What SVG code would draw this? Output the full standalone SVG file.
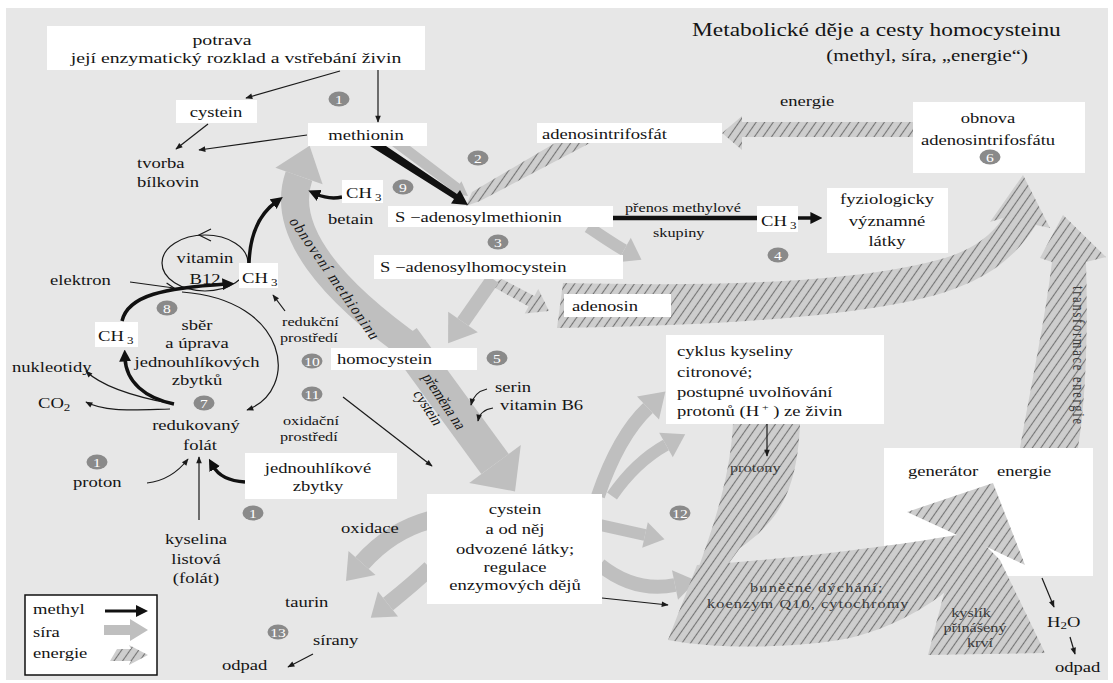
<svg xmlns="http://www.w3.org/2000/svg" width="1113" height="683" viewBox="0 0 1113 683">
<defs>
<style>
.t{font-family:"Liberation Serif","Times New Roman",serif;font-size:14.3px;fill:#141414}
.m{text-anchor:middle}
.e{text-anchor:end}
.sm{font-size:12.5px}
.f13{font-size:13px}
.f15{font-size:15.2px}
.ttl{font-size:18px}
.ttl2{font-size:16px}
.dk{fill:#3a3a3a}
.box{fill:#fff}
.b ellipse{fill:#8a8a8a}
.b text{font-family:"Liberation Serif","Times New Roman",serif;font-size:12px;fill:#fff;text-anchor:middle}
.s{fill:#bfbfbf}
.sl{fill:none;stroke:#bfbfbf}
.h{fill:url(#hatch)}
.ln{fill:none;stroke:#1a1a1a;stroke-width:1.2}
.tk{fill:none;stroke:#111;stroke-width:3.5}
</style>
<pattern id="hatch" patternUnits="userSpaceOnUse" width="7" height="7" patternTransform="rotate(35)">
<rect width="7" height="7" fill="#cecece"/>
<line x1="3.5" y1="0" x2="3.5" y2="7" stroke="#747474" stroke-width="1.1"/>
</pattern>
<marker id="a" viewBox="0 0 10 10" refX="9" refY="5" markerWidth="8" markerHeight="7" markerUnits="userSpaceOnUse" orient="auto"><path d="M0,1 L10,5 L0,9 Z" fill="#1a1a1a"/></marker>
<marker id="ab" viewBox="0 0 10 10" refX="3" refY="5" markerWidth="12" markerHeight="12" markerUnits="userSpaceOnUse" orient="auto"><path d="M0,0 L10,5 L0,10 Z" fill="#111"/></marker>
<marker id="ao" viewBox="0 0 10 10" refX="9" refY="5" markerWidth="10" markerHeight="10" markerUnits="userSpaceOnUse" orient="auto"><path d="M1,1 L9,5 L1,9" fill="none" stroke="#1a1a1a" stroke-width="1.3"/></marker>
</defs>
<rect width="1113" height="683" fill="#fff"/>
<rect x="6" y="8" width="1102" height="672" fill="#e7e7e7"/>

<g id="energy-flows-back">
<polygon class="h" points="913,122 742,122 742,116 722,133 742,150 742,137 913,137"/>
<polygon class="h" points="555,143 590,143 480,201 466,206 472,192"/>
<polygon class="h" points="502,279 534.4,296.1 538.3,289.1 549,311 524.7,313.5 528.6,306.5 490,285"/>
<path class="h" d="M563,283 C700,286 850,285 945,258 C972,250 992,235 1003,218 L990,222 L1023,175 L1050,228 L1036,225 C1012,262 982,282 932,296 C850,318 700,326 557,328 Z"/>
<path class="h" d="M1020,448 C1032,380 1045,320 1052,262 L1040,258 L1063,215 L1106,257 L1086,262 C1088,330 1086,400 1078,448 Z"/>
<path class="h" d="M733,424 L800,424 C797,490 780,520 740,548 L718,578 L697,572 C712,530 730,480 733,424 Z"/>
</g>

<g id="sulfur-flows">
<polygon class="s" points="392,146 410,146 459.7,183.7 461.4,181.3 468,196 452,194 453.7,191.7"/>
<path class="sl" stroke-width="28" d="M418,352 C330,290 280,230 299,176"/>
<polygon class="s" points="322.6,184.3 309.6,145.8 275.4,167.7"/>
<path class="sl" stroke-width="34" d="M403,338 L495,464"/>
<polygon class="s" points="520.8,445.1 515,491.4 469.2,482.9"/>
<path class="sl" stroke-width="14" d="M493,279 L463,322"/>
<polygon class="s" points="477.8,332.3 448.1,343.3 448.2,311.7"/>
<path class="sl" stroke-width="12" d="M588,227 C605,238 615,245 624,250"/>
<polygon class="s" points="617.2,262.2 641.5,259.7 630.8,237.8"/>
<path class="sl" stroke-width="14" d="M598,496 C612,455 630,425 648,408"/>
<polygon class="s" points="659,419.6 665.4,391.5 637,396.4"/>
<path class="sl" stroke-width="12" d="M612,496 C630,470 648,455 666,445"/>
<polygon class="s" points="672.8,457.2 685.2,434.3 659.2,432.8"/>
<path class="sl" stroke-width="12" d="M600,525 L645,535"/>
<polygon class="s" points="642.2,547.7 664.5,539.3 647.8,522.3"/>
<path class="sl" stroke-width="14" d="M600,565 C625,585 650,590 675,585"/>
<polygon class="s" points="678,599.7 696.6,580.7 672,570.3"/>
<path class="sl" stroke-width="18" d="M430,520 C400,528 378,545 362,563"/>
<polygon class="s" points="375.5,575 346,581 348.5,551"/>
<path class="sl" stroke-width="16" d="M430,568 C412,585 398,596 388,604"/>
<polygon class="s" points="398,616.5 370.8,617.7 378,591.5"/>
<polygon fill="#111" points="370,146 386,146 457,194 460,190 468,205 451,203.5 454,199"/>
</g>

<g id="connectors">
<path class="ln" d="M340,71 L246,98" marker-end="url(#a)"/>
<path class="ln" d="M208,124 L176,149" marker-end="url(#a)"/>
<path class="ln" d="M307,135 L199,150" marker-end="url(#a)"/>
<path class="ln" d="M378,70 L378,122" marker-end="url(#a)"/>
<path class="ln" d="M285,311 L273,295" marker-end="url(#a)"/>
<path class="ln" d="M343,397 L432,466" marker-end="url(#a)"/>
<path class="ln" d="M487,389 Q474,392 471,405" marker-end="url(#a)"/>
<path class="ln" d="M493,408 Q480,410 478,421" marker-end="url(#a)"/>
<path class="ln" d="M767,424 L767,456" marker-end="url(#a)"/>
<path class="ln" d="M602,598 L668,605" marker-end="url(#a)"/>
<path class="ln" d="M1042,578 L1054,607" marker-end="url(#a)"/>
<path class="ln" d="M1070,637 L1075,654" marker-end="url(#a)"/>
<path class="ln" d="M313,654 L288,667" marker-end="url(#a)"/>
<path class="ln" d="M130,282 L174,288" marker-end="url(#ao)"/>
<path class="ln" d="M173,404 C130,396 100,385 86,371" marker-end="url(#a)"/>
<path class="ln" d="M170,409 C130,410 105,412 86,402" marker-end="url(#a)"/>
<path class="ln" d="M147,483 C165,481 178,472 188,459" marker-end="url(#a)"/>
<path class="ln" d="M199,520 L199,457" marker-end="url(#a)"/>
<path class="ln" d="M182,292 C290,300 300,390 247,410" marker-end="url(#a)"/>
<ellipse class="ln" cx="205" cy="263" rx="43" ry="28"/>
<path class="ln" d="M211,229 L199,235 L211,241"/>
<path fill="none" stroke="#111" stroke-width="4.5" d="M613,218 L757,218"/>
<path class="tk" d="M798,218 L814,218" marker-end="url(#ab)"/>
<path class="tk" stroke-width="4" d="M249,263 C250,235 258,215 276,202" marker-end="url(#ab)"/>
<path class="tk" d="M342,197 C333,199 325,198 316,194" marker-end="url(#ab)"/>
<path class="tk" d="M122,321 C128,295 165,288 226,284" marker-end="url(#ab)"/>
<path class="tk" stroke-width="4" d="M174,404 C145,398 126,382 125,358" marker-end="url(#ab)"/>
<path class="tk" d="M245,482 C228,481 218,475 213,466" marker-end="url(#ab)"/>
</g>

<g id="title">
<text class="t ttl" transform="translate(692,36) scale(1.3,1)">Metabolické děje a cesty homocysteinu</text>
<text class="t ttl2 e" transform="translate(1028,61) scale(1.3,1)">(methyl, síra, „energie“)</text>
</g>

<g id="node-potrava">
<rect class="box" x="47" y="26" width="378" height="44"/>
<text class="t m f15" transform="translate(222,45) scale(1.3,1)">potrava</text>
<text class="t m f15" transform="translate(236,63) scale(1.3,1)">její enzymatický rozklad a vstřebání živin</text>
</g>
<g id="node-cystein-food">
<rect class="box" x="176" y="100" width="81" height="23"/>
<text class="t m" transform="translate(216,117) scale(1.3,1)">cystein</text>
</g>
<g id="node-methionin">
<rect class="box" x="308" y="123" width="119" height="23"/>
<text class="t m" transform="translate(366,140) scale(1.3,1)">methionin</text>
</g>
<g id="node-tvorba">
<text class="t" transform="translate(137,168) scale(1.3,1)">tvorba</text>
<text class="t" transform="translate(137,187) scale(1.3,1)">bílkovin</text>
</g>
<g id="node-ch3-betain">
<rect class="box" x="342" y="180" width="41" height="23"/>
<text class="t" transform="translate(346,198) scale(1.3,1)">CH<tspan font-size="10" dy="3"> 3</tspan></text>
</g>
<g id="node-betain">
<text class="t" transform="translate(328,224) scale(1.3,1)">betain</text>
</g>
<g id="node-sam">
<rect class="box" x="388" y="206" width="225" height="21"/>
<text class="t" transform="translate(395,222) scale(1.3,1)">S −adenosylmethionin</text>
</g>
<g id="node-atp">
<rect class="box" x="537" y="123" width="185" height="20"/>
<text class="t" transform="translate(542,139) scale(1.3,1)">adenosintrifosfát</text>
</g>
<g id="node-energie-label">
<text class="t" transform="translate(780,106) scale(1.3,1)">energie</text>
</g>
<g id="node-obnova">
<rect class="box" x="913" y="102" width="172" height="71"/>
<text class="t m" transform="translate(988,123) scale(1.3,1)">obnova</text>
<text class="t m" transform="translate(988,145) scale(1.3,1)">adenosintrifosfátu</text>
</g>
<g id="node-prenos">
<text class="t sm" transform="translate(625,212) scale(1.3,1)">přenos methylové</text>
<text class="t sm" transform="translate(653,237) scale(1.3,1)">skupiny</text>
</g>
<g id="node-ch3-methyl">
<rect class="box" x="757" y="206" width="41" height="26"/>
<text class="t" transform="translate(761,226) scale(1.3,1)">CH<tspan font-size="10" dy="3"> 3</tspan></text>
</g>
<g id="node-fyziologicky">
<rect class="box" x="827" y="188" width="121" height="65"/>
<text class="t m" transform="translate(887,204) scale(1.3,1)">fyziologicky</text>
<text class="t m" transform="translate(887,226) scale(1.3,1)">významné</text>
<text class="t m" transform="translate(887,246) scale(1.3,1)">látky</text>
</g>
<g id="node-sah">
<rect class="box" x="374" y="255" width="249" height="24"/>
<text class="t" transform="translate(380,272) scale(1.3,1)">S −adenosylhomocystein</text>
</g>
<g id="node-adenosin">
<rect class="box" x="564" y="294" width="107" height="23"/>
<text class="t" transform="translate(572,311) scale(1.3,1)">adenosin</text>
</g>
<g id="node-homocystein">
<rect class="box" x="331" y="348" width="146" height="22"/>
<text class="t" transform="translate(337,364) scale(1.3,1)">homocystein</text>
</g>
<g id="node-cyklus">
<rect class="box" x="666" y="335" width="218" height="89"/>
<text class="t" transform="translate(677,356) scale(1.3,1)">cyklus kyseliny</text>
<text class="t" transform="translate(677,377) scale(1.3,1)">citronové;</text>
<text class="t" transform="translate(677,397) scale(1.3,1)">postupné uvolňování</text>
<text class="t" transform="translate(677,416) scale(1.3,1)">protonů (H<tspan font-size="9" dy="-6"> +</tspan><tspan dy="6"> ) ze živin</tspan></text>
</g>
<g id="node-cystein-main">
<rect class="box" x="427" y="494" width="175" height="110"/>
<text class="t m" transform="translate(515,514) scale(1.3,1)">cystein</text>
<text class="t m" transform="translate(515,534) scale(1.3,1)">a od něj</text>
<text class="t m" transform="translate(515,554) scale(1.3,1)">odvozené látky;</text>
<text class="t m" transform="translate(515,572) scale(1.3,1)">regulace</text>
<text class="t m" transform="translate(515,590) scale(1.3,1)">enzymových dějů</text>
</g>
<g id="node-jednouhlikove">
<rect class="box" x="245" y="453" width="152" height="46"/>
<text class="t m" transform="translate(318,473) scale(1.3,1)">jednouhlíkové</text>
<text class="t m" transform="translate(318,491) scale(1.3,1)">zbytky</text>
</g>
<g id="node-generator">
<rect class="box" x="884" y="448" width="209" height="128"/>
<text class="t" transform="translate(908,476) scale(1.3,1)">generátor</text>
<text class="t" transform="translate(997,476) scale(1.3,1)">energie</text>
</g>

<g id="energy-flows-front">
<path class="h" d="M697,565 C780,560 880,548 957,535 L907,512 L993,483 L1025,565 L987,547 C960,590 905,625 850,638 C800,648 720,650 668,640 Z"/>
<polygon class="h" points="928,655 948,578 987,547 1000,560 1045,653"/>
</g>

<g id="node-vitamin">
<text class="t m" transform="translate(205,263) scale(1.3,1)">vitamin</text>
<text class="t m" transform="translate(205,284) scale(1.3,1)">B12</text>
</g>
<g id="node-ch3-b12">
<rect class="box" x="239" y="263" width="39" height="25"/>
<text class="t" transform="translate(242,283) scale(1.3,1)">CH<tspan font-size="10" dy="3"> 3</tspan></text>
</g>
<g id="node-ch3-left">
<rect class="box" x="95" y="322" width="43" height="25"/>
<text class="t" transform="translate(98,341) scale(1.3,1)">CH<tspan font-size="10" dy="3"> 3</tspan></text>
</g>
<g id="node-elektron"><text class="t" transform="translate(50,285) scale(1.3,1)">elektron</text></g>
<g id="node-sber">
<text class="t m" transform="translate(197,330) scale(1.3,1)">sběr</text>
<text class="t m" transform="translate(197,348) scale(1.3,1)">a úprava</text>
<text class="t m" transform="translate(197,367) scale(1.3,1)">jednouhlíkových</text>
<text class="t m" transform="translate(197,385) scale(1.3,1)">zbytků</text>
</g>
<g id="node-nukleotidy"><text class="t" transform="translate(12,372) scale(1.3,1)">nukleotidy</text></g>
<g id="node-co2"><text class="t" transform="translate(38,408) scale(1.3,1)">CO<tspan font-size="10" dy="3">2</tspan></text></g>
<g id="node-folat">
<text class="t m" transform="translate(196,430) scale(1.3,1)">redukovaný</text>
<text class="t m" transform="translate(200,450) scale(1.3,1)">folát</text>
</g>
<g id="node-redukcni">
<text class="t sm" transform="translate(282,326) scale(1.3,1)">redukční</text>
<text class="t sm" transform="translate(280,342) scale(1.3,1)">prostředí</text>
</g>
<g id="node-oxidacni">
<text class="t sm" transform="translate(283,425) scale(1.3,1)">oxidační</text>
<text class="t sm" transform="translate(280,441) scale(1.3,1)">prostředí</text>
</g>
<g id="node-proton"><text class="t" transform="translate(73,487) scale(1.3,1)">proton</text></g>
<g id="node-kyselina">
<text class="t m" transform="translate(196,544) scale(1.3,1)">kyselina</text>
<text class="t m" transform="translate(196,564) scale(1.3,1)">listová</text>
<text class="t m" transform="translate(196,583) scale(1.3,1)">(folát)</text>
</g>
<g id="node-oxidace"><text class="t" transform="translate(341,533) scale(1.3,1)">oxidace</text></g>
<g id="node-taurin"><text class="t" transform="translate(285,607) scale(1.3,1)">taurin</text></g>
<g id="node-sirany"><text class="t" transform="translate(313,645) scale(1.3,1)">sírany</text></g>
<g id="node-odpad1"><text class="t" transform="translate(222,670) scale(1.3,1)">odpad</text></g>
<g id="node-serin">
<text class="t" transform="translate(495,392) scale(1.3,1)">serin</text>
<text class="t" transform="translate(500,410) scale(1.3,1)">vitamin B6</text>
</g>
<g id="node-protony"><text class="t sm dk" transform="translate(730,472) scale(1.3,1)">protony</text></g>
<g id="node-bunecne">
<text class="t sm dk" transform="translate(750,592) scale(1.3,1)" textLength="102" lengthAdjust="spacing">buněčné dýchání;</text>
<text class="t sm dk" transform="translate(707,608) scale(1.3,1)" textLength="155" lengthAdjust="spacing">koenzym Q10, cytochromy</text>
</g>
<g id="node-kyslik">
<text class="t sm dk m" transform="translate(971,617) scale(1.3,1)">kyslík</text>
<text class="t sm dk m" transform="translate(975,632) scale(1.3,1)">přinášený</text>
<text class="t sm dk m" transform="translate(980,647) scale(1.3,1)">krví</text>
</g>
<g id="node-h2o"><text class="t" transform="translate(1047,627) scale(1.3,1)">H<tspan font-size="10" dy="2">2</tspan><tspan dy="-2">O</tspan></text></g>
<g id="node-odpad2"><text class="t" transform="translate(1055,672) scale(1.3,1)">odpad</text></g>

<g id="rotated-labels">
<text class="t f13" transform="scale(1.3,1) translate(222,221) rotate(62)" textLength="135" lengthAdjust="spacing">obnovení methioninu</text>
<g transform="scale(1.3,1) translate(324,376) rotate(63)">
<text class="t m f13" x="31" y="0">přeměna na</text>
<text class="t m f13" x="31" y="14">cystein</text>
</g>
<text class="t m dk sm" transform="translate(1073,355) rotate(90) scale(1,1.3)" textLength="138" lengthAdjust="spacing">transformace energie</text>
</g>

<g id="badges">
<g class="b"><ellipse cx="339" cy="99" rx="10.5" ry="7.5"/><text transform="translate(339,103.5) scale(1.3,1)">1</text></g>
<g class="b"><ellipse cx="478" cy="158" rx="10.5" ry="7.5"/><text transform="translate(478,162.5) scale(1.3,1)">2</text></g>
<g class="b"><ellipse cx="403" cy="187" rx="10.5" ry="7.5"/><text transform="translate(403,191.5) scale(1.3,1)">9</text></g>
<g class="b"><ellipse cx="498" cy="242" rx="10.5" ry="7.5"/><text transform="translate(498,246.5) scale(1.3,1)">3</text></g>
<g class="b"><ellipse cx="778" cy="255" rx="10.5" ry="7.5"/><text transform="translate(778,259.5) scale(1.3,1)">4</text></g>
<g class="b"><ellipse cx="497" cy="358" rx="10.5" ry="7.5"/><text transform="translate(497,362.5) scale(1.3,1)">5</text></g>
<g class="b"><ellipse cx="990" cy="157" rx="10.5" ry="7.5"/><text transform="translate(990,161.5) scale(1.3,1)">6</text></g>
<g class="b"><ellipse cx="167" cy="308" rx="10.5" ry="7.5"/><text transform="translate(167,312.5) scale(1.3,1)">8</text></g>
<g class="b"><ellipse cx="204" cy="403" rx="10.5" ry="7.5"/><text transform="translate(204,407.5) scale(1.3,1)">7</text></g>
<g class="b"><ellipse cx="312" cy="361" rx="10.5" ry="7.5"/><text transform="translate(312,365.5) scale(1.3,1)">10</text></g>
<g class="b"><ellipse cx="312" cy="394" rx="10.5" ry="7.5"/><text transform="translate(312,398.5) scale(1.3,1)">11</text></g>
<g class="b"><ellipse cx="97" cy="462" rx="10.5" ry="7.5"/><text transform="translate(97,466.5) scale(1.3,1)">1</text></g>
<g class="b"><ellipse cx="253" cy="513" rx="10.5" ry="7.5"/><text transform="translate(253,517.5) scale(1.3,1)">1</text></g>
<g class="b"><ellipse cx="680" cy="513" rx="10.5" ry="7.5"/><text transform="translate(680,517.5) scale(1.3,1)">12</text></g>
<g class="b"><ellipse cx="278" cy="632" rx="10.5" ry="7.5"/><text transform="translate(278,636.5) scale(1.3,1)">13</text></g>
</g>

<g id="legend">
<rect x="25" y="595" width="132" height="80" fill="#fff" stroke="#111" stroke-width="1.5"/>
<text class="t" transform="translate(33,614) scale(1.3,1)">methyl</text>
<text class="t" transform="translate(33,637) scale(1.3,1)">síra</text>
<text class="t" transform="translate(33,658) scale(1.3,1)">energie</text>
<path d="M105,611 L137,611" stroke="#111" stroke-width="3"/>
<polygon fill="#111" points="136,605 148,611 136,617"/>
<polygon class="s" points="104,625 130,625 130,619 148,630 130,641 130,635 104,635"/>
<polygon class="h" points="110,661 117,649 131,649 129,645 148,655 129,665 131,661"/>
</g>
</svg>
